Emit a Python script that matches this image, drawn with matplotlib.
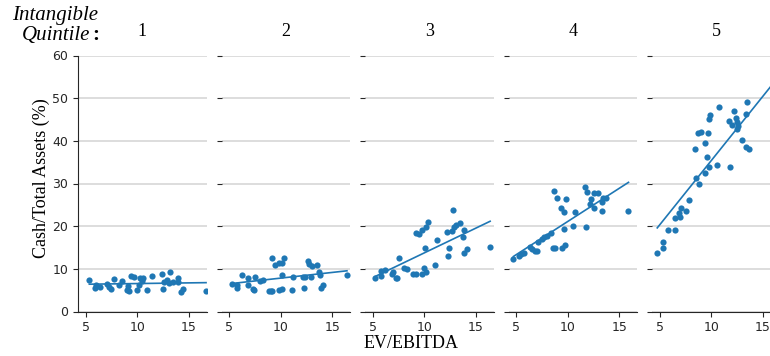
import numpy as np
import matplotlib
matplotlib.use("Agg")
import matplotlib.pyplot as plt

# ---- data ----
quintiles = ["1", "2", "3", "4", "5"]

x_q1 = [5.35, 6.0, 5.93, 6.39, 7.04, 7.29, 7.46, 7.78, 8.2, 8.52, 9.08, 8.98, 9.23, 9.4, 9.72,
        9.98, 10.15, 10.27, 10.6, 10.47, 10.92, 11.4, 12.38, 12.53, 12.63, 12.86, 13.21, 13.12,
        13.5, 13.93, 13.93, 14.42, 14.25, 16.68]
y_q1 = [7.3, 6.2, 5.4, 5.8, 6.4, 5.8, 5.2, 7.6, 6.2, 7.1, 6.0, 5.1, 4.8, 8.4, 8.1,
        5.0, 6.2, 7.8, 7.8, 7.1, 5.0, 8.4, 8.7, 5.2, 7.0, 7.4, 9.2, 6.6,
        7.0, 7.9, 6.8, 5.3, 4.5, 4.8]

x_q2 = [5.26, 5.8, 5.8, 6.23, 6.87, 6.87, 7.26, 7.43, 7.52, 7.98, 8.24, 8.82, 9.05, 9.2, 9.85,
        10.17, 10.1, 9.2, 9.47, 9.85, 10.17, 10.34, 11.09, 11.2, 12.12, 12.38, 12.28, 12.6,
        12.77, 13.03, 13.48, 12.93, 13.74, 13.83, 13.9, 14.13, 16.43]
y_q2 = [6.4, 6.1, 5.5, 8.6, 7.8, 6.1, 5.3, 5.1, 8.1, 7.1, 7.5, 4.9, 4.9, 4.9, 5.1,
        5.3, 8.5, 12.5, 11.0, 11.4, 11.4, 12.5, 5.0, 8.0, 8.2, 8.0, 5.5, 11.9,
        11.1, 10.6, 11.0, 8.0, 9.3, 8.6, 5.5, 6.3, 8.5]

x_q3 = [5.21, 5.8, 5.8, 6.18, 6.83, 6.92, 7.25, 7.4, 7.54, 8.0, 8.28, 8.87, 9.19, 9.83, 10.16,
        10.0, 9.19, 9.45, 9.83, 10.22, 10.32, 10.1, 11.04, 11.2, 12.17, 12.65, 12.9, 13.08,
        12.75, 13.47, 12.4, 12.26, 13.82, 13.76, 14.15, 13.82, 16.4]
y_q3 = [7.8, 8.3, 9.6, 9.7, 8.7, 9.3, 7.9, 7.9, 12.5, 10.1, 9.9, 8.9, 8.9, 8.9, 9.3,
        10.3, 18.5, 18.2, 19.1, 19.7, 20.9, 14.9, 10.9, 16.7, 18.7, 18.9, 19.9, 20.3,
        23.8, 20.8, 15.0, 13.1, 19.1, 17.5, 14.6, 13.8, 15.2]

x_q4 = [4.73, 5.31, 5.44, 5.76, 6.34, 6.5, 6.8, 7.05, 7.15, 7.5, 7.7, 7.96, 8.35, 8.6, 8.77,
        9.4, 9.75, 9.6, 8.7, 9.0, 9.35, 9.64, 9.83, 10.55, 10.7, 11.8, 11.7, 11.9, 12.2,
        12.3, 12.55, 12.98, 12.55, 13.3, 13.3, 13.47, 13.7, 15.9]
y_q4 = [12.2, 13.0, 13.5, 13.6, 15.2, 14.6, 14.2, 14.2, 16.4, 16.9, 17.4, 17.7, 18.3, 14.9, 14.9,
        14.9, 15.5, 19.3, 28.2, 26.7, 24.3, 23.4, 26.3, 20.0, 23.4, 19.9, 29.2, 28.1, 25.2,
        26.3, 27.7, 27.7, 24.2, 23.6, 25.7, 26.5, 26.5, 23.6]

x_q5 = [4.76, 5.34, 5.34, 5.8, 6.48, 6.44, 6.86, 7.0, 7.1, 7.57, 7.86, 8.57, 8.77, 8.38, 8.7,
        8.96, 9.42, 9.68, 9.6, 9.42, 9.78, 9.8, 9.87, 10.6, 10.75, 11.87, 11.7, 11.97, 12.2,
        12.36, 12.46, 12.6, 12.5, 13.0, 13.37, 13.43, 13.4, 13.7, 16.4]
y_q5 = [13.7, 14.9, 16.3, 19.0, 19.0, 21.8, 23.2, 22.2, 24.2, 23.5, 26.1, 31.3, 30.0, 38.2, 41.9,
        42.0, 39.5, 41.9, 36.2, 32.4, 33.9, 45.2, 46.0, 34.3, 48.0, 33.8, 44.7, 43.8, 47.0,
        45.4, 44.5, 43.5, 42.7, 40.2, 46.3, 49.1, 38.6, 38.1, 38.0]

xs = [x_q1, x_q2, x_q3, x_q4, x_q5]
ys = [y_q1, y_q2, y_q3, y_q4, y_q5]

x_ticks = [5, 10, 15]
y_ticks = [0, 10, 20, 30, 40, 50, 60]

# ---- figure ----
W, H = 770, 356
fig = plt.figure(figsize=(W / 100, H / 100), dpi=100)
serif = ["Liberation Serif", "DejaVu Serif"]
blue = "#1f77b4"
dark = "#262626"

ax_w = 128.75
bottom_px, top_px = 311.5, 55.5
for i in range(5):
    left_px = 78 + 143.5 * i
    ax = fig.add_axes([left_px / W, 1 - bottom_px / H, ax_w / W, (bottom_px - top_px) / H])
    x = np.array(xs[i]); y = np.array(ys[i])
    ax.scatter(x, y, s=20, color=blue, linewidths=0, zorder=2)
    b, a = np.polyfit(x, y, 1)
    xl = np.array([x.min(), x.max()])
    ax.plot(xl, a + b * xl, color=blue, lw=1.2, zorder=3)
    ax.set_xlim(4.25, 16.75)
    ax.set_ylim(0, 60)
    ax.set_xticks(x_ticks)
    ax.set_yticks(y_ticks)
    ax.yaxis.grid(True, color="#d3d3d3", lw=1.1, zorder=0)
    ax.set_axisbelow(True)
    for s in ["top", "right"]:
        ax.spines[s].set_visible(False)
    ax.spines["bottom"].set_color(dark)
    ax.spines["left"].set_color(dark)
    ax.tick_params(colors=dark, labelsize=9, length=3.5, width=0.8)
    if i > 0:
        ax.spines["left"].set_visible(False)
        ax.tick_params(axis="y", labelleft=False)
    ax.set_title(quintiles[i], fontfamily=serif, fontsize=13, color="black", pad=14)

fig.text(55 / W, 1 - 20 / H, "Intangible", fontfamily=serif, fontstyle="italic",
         fontsize=15, ha="center", va="baseline")
fig.text(56 / W, 1 - 40 / H, "Quintile", fontfamily=serif, fontstyle="italic",
         fontsize=15, ha="center", va="baseline")
fig.text(96 / W, 1 - 40 / H, ":", fontfamily=serif, fontweight="bold",
         fontsize=15, ha="center", va="baseline")

fig.text(41 / W, 1 - 178 / H, "Cash/Total Assets (%)", fontfamily=serif, fontsize=13,
         rotation=90, ha="center", va="center")
fig.text(411 / W, 1 - 343 / H, "EV/EBITDA", fontfamily=serif, fontsize=13,
         ha="center", va="center")

fig.savefig("out.png", dpi=100)
